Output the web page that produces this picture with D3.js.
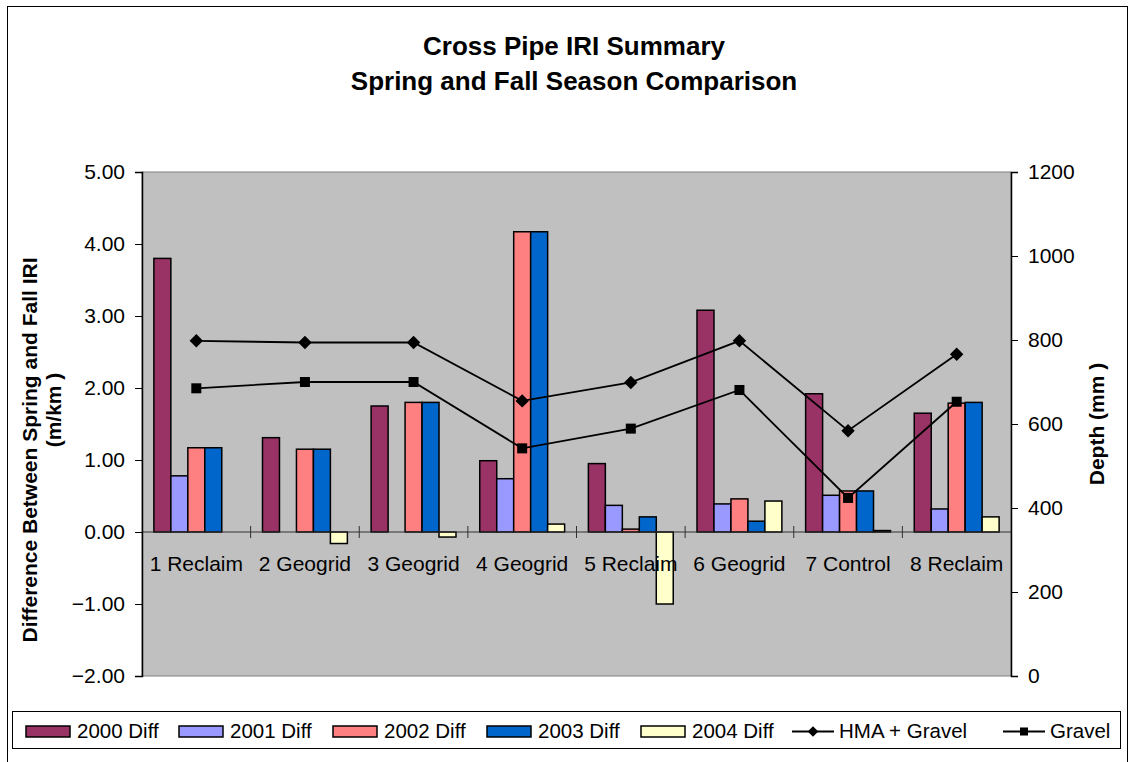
<!DOCTYPE html>
<html lang="en">
  <head>
    <meta charset="utf-8">
    <title>Cross Pipe IRI Summary</title>
    <script src="https://d3js.org/d3.v7.js"></script>
    <style>
    body {margin: 0; background: white;}
    svg text {font-family: "Liberation Sans", Arial, sans-serif; fill: black;}
    .axis text {font-size: 21px;}
    .axis-title {font-size: 21px; font-weight: bold;}
    .title {font-size: 26px; font-weight: bold;}
    .cat-label {font-size: 21px;}
    .legend text {font-size: 20.5px;}
    </style>
  </head>
  <body>
  <script>

  // data
  var categories = ["1 Reclaim", "2 Geogrid", "3 Geogrid", "4 Geogrid", "5 Reclaim", "6 Geogrid", "7 Control", "8 Reclaim"];
  var barSeries = ["2000 Diff", "2001 Diff", "2002 Diff", "2003 Diff", "2004 Diff"];
  var diff2000 = [3.80, 1.31, 1.75, 0.99, 0.95, 3.08, 1.92, 1.65];
  var diff2001 = [0.78, null, null, 0.74, 0.37, 0.39, 0.51, 0.32];
  var diff2002 = [1.17, 1.15, 1.80, 4.17, 0.04, 0.46, 0.57, 1.79];
  var diff2003 = [1.17, 1.15, 1.80, 4.17, 0.21, 0.15, 0.57, 1.80];
  var diff2004 = [null, -0.16, -0.07, 0.11, -1.00, 0.43, 0.02, 0.21];
  var hmaGravel = [798, 794, 794, 655, 699, 798, 584, 766];
  var gravel = [685, 700, 700, 542, 589, 681, 424, 653];
  var leftTicks = [-2, -1, 0, 1, 2, 3, 4, 5];
  var rightTicks = [0, 200, 400, 600, 800, 1000, 1200];
  var barColors = ["#993366", "#9999FF", "#FF8080", "#0066CC", "#FFFFCC"];

  var barValues = [diff2000, diff2001, diff2002, diff2003, diff2004];

  var w = 1133;
  var h = 762;
  var plot = {left: 142, right: 1011, top: 172, bottom: 676};

  var svg = d3.select("body")
      .append("svg")
      .attr("width", w)
      .attr("height", h);

  // chart border
  svg.append("rect")
     .attr("x", 7.5)
     .attr("y", 6.5)
     .attr("width", 1120)
     .attr("height", 780)
     .attr("fill", "white")
     .attr("stroke", "black")
     .attr("stroke-width", 1);

  // plot area
  svg.append("rect")
     .attr("x", plot.left)
     .attr("y", plot.top)
     .attr("width", plot.right - plot.left)
     .attr("height", plot.bottom - plot.top)
     .attr("fill", "#C0C0C0")
     .attr("stroke", "#808080")
     .attr("stroke-width", 1);

  var x0 = d3.scaleBand()
      .domain(categories)
      .range([plot.left, plot.right])
      .padding(0);

  var x1 = d3.scaleBand()
      .domain(barSeries)
      .range([0, x0.bandwidth()])
      .paddingInner(0)
      .paddingOuter(0.7);

  var yLeft = d3.scaleLinear()
      .domain([-2, 5])
      .range([plot.bottom, plot.top]);

  var yRight = d3.scaleLinear()
      .domain([0, 1200])
      .range([plot.bottom, plot.top]);

  // bars
  barSeries.forEach(function(s, si) {
    var vals = categories.map(function(c, i) {
      return {cat: c, v: barValues[si][i]};
    }).filter(d => d.v !== null);

    svg.selectAll(".bar-" + si)
       .data(vals)
       .join("rect")
       .attr("class", "bar-" + si)
       .attr("x", d => x0(d.cat) + x1(s))
       .attr("y", d => Math.min(yLeft(d.v), yLeft(0)))
       .attr("width", x1.bandwidth())
       .attr("height", d => Math.max(Math.abs(yLeft(d.v) - yLeft(0)), 1))
       .attr("fill", barColors[si])
       .attr("stroke", "black")
       .attr("stroke-width", 1.5);
  });

  // category axis at zero
  svg.append("line")
     .attr("x1", plot.left)
     .attr("x2", plot.right)
     .attr("y1", yLeft(0))
     .attr("y2", yLeft(0))
     .attr("stroke", "#303030")
     .attr("stroke-width", 1);

  svg.selectAll(".cat-tick")
     .data(categories.slice(1))
     .join("line")
     .attr("class", "cat-tick")
     .attr("x1", d => x0(d))
     .attr("x2", d => x0(d))
     .attr("y1", yLeft(0) - 6)
     .attr("y2", yLeft(0) + 6)
     .attr("stroke", "#303030")
     .attr("stroke-width", 1);

  svg.selectAll(".cat-label")
     .data(categories)
     .join("text")
     .attr("class", "cat-label")
     .attr("x", d => x0(d) + x0.bandwidth() / 2)
     .attr("y", yLeft(0) + 39)
     .attr("text-anchor", "middle")
     .text(d => d);

  // lines
  var lineGen = d3.line()
      .x((d, i) => x0(categories[i]) + x0.bandwidth() / 2)
      .y(d => yRight(d));

  svg.append("path")
     .attr("d", lineGen(hmaGravel))
     .attr("fill", "none")
     .attr("stroke", "black")
     .attr("stroke-width", 1.8);

  svg.append("path")
     .attr("d", lineGen(gravel))
     .attr("fill", "none")
     .attr("stroke", "black")
     .attr("stroke-width", 1.8);

  svg.selectAll(".diamond")
     .data(hmaGravel)
     .join("path")
     .attr("class", "diamond")
     .attr("d", d3.symbol().type(d3.symbolDiamond2).size(115))
     .attr("transform", (d, i) => "translate(" + (x0(categories[i]) + x0.bandwidth() / 2) + "," + yRight(d) + ")")
     .attr("fill", "black");

  svg.selectAll(".square")
     .data(gravel)
     .join("rect")
     .attr("class", "square")
     .attr("x", (d, i) => x0(categories[i]) + x0.bandwidth() / 2 - 5)
     .attr("y", d => yRight(d) - 5)
     .attr("width", 10)
     .attr("height", 10)
     .attr("fill", "black");

  // left axis
  var yAxisLeft = d3.axisLeft(yLeft)
      .tickValues(leftTicks)
      .tickSize(7)
      .tickPadding(10)
      .tickFormat(d3.format(".2f"));
  svg.append("g")
     .attr("class", "axis")
     .attr("transform", `translate(${plot.left}, 0)`)
     .call(yAxisLeft)
     .call(g => g.select(".domain").attr("stroke-width", 1.5));

  // right axis
  var yAxisRight = d3.axisRight(yRight)
      .tickValues(rightTicks)
      .tickSize(7)
      .tickPadding(10)
      .tickFormat(d3.format("d"));
  svg.append("g")
     .attr("class", "axis")
     .attr("transform", `translate(${plot.right}, 0)`)
     .call(yAxisRight)
     .call(g => g.select(".domain").attr("stroke-width", 1.5));

  svg.selectAll(".axis text").attr("font-size", 21).attr("font-family", null);

  // axis titles
  var midY = (plot.top + plot.bottom) / 2;
  svg.append("text")
     .attr("class", "axis-title")
     .attr("transform", "translate(37, 450) rotate(-90)")
     .attr("text-anchor", "middle")
     .text("Difference Between Spring and Fall IRI");
  svg.append("text")
     .attr("class", "axis-title")
     .attr("transform", "translate(61, 410) rotate(-90)")
     .attr("text-anchor", "middle")
     .text("(m/km )");
  svg.append("text")
     .attr("class", "axis-title")
     .attr("transform", `translate(1104, ${midY}) rotate(-90)`)
     .attr("text-anchor", "middle")
     .text("Depth (mm )");

  // title
  svg.append("text")
     .attr("class", "title")
     .attr("x", 574)
     .attr("y", 55)
     .attr("text-anchor", "middle")
     .text("Cross Pipe IRI Summary");
  svg.append("text")
     .attr("class", "title")
     .attr("x", 574)
     .attr("y", 90)
     .attr("text-anchor", "middle")
     .text("Spring and Fall Season Comparison");

  // legend
  var legend = svg.append("g").attr("class", "legend");
  legend.append("rect")
     .attr("x", 12.5)
     .attr("y", 711.5)
     .attr("width", 1108)
     .attr("height", 37)
     .attr("fill", "white")
     .attr("stroke", "black")
     .attr("stroke-width", 1);

  var barLegendX = [26, 179, 333, 487, 641];
  barSeries.forEach(function(s, i) {
    legend.append("rect")
       .attr("x", barLegendX[i])
       .attr("y", 726)
       .attr("width", 44)
       .attr("height", 11)
       .attr("fill", barColors[i])
       .attr("stroke", "black")
       .attr("stroke-width", 1.5);
    legend.append("text")
       .attr("x", barLegendX[i] + 51)
       .attr("y", 738)
       .text(s);
  });

  var lineLegend = [{name: "HMA + Gravel", x: 792, mark: "diamond"}, {name: "Gravel", x: 1003, mark: "square"}];
  lineLegend.forEach(function(d) {
    legend.append("line")
       .attr("x1", d.x)
       .attr("x2", d.x + 42)
       .attr("y1", 731.5)
       .attr("y2", 731.5)
       .attr("stroke", "black")
       .attr("stroke-width", 2);
    if (d.mark == "diamond") {
      legend.append("path")
         .attr("d", d3.symbol().type(d3.symbolDiamond2).size(70))
         .attr("transform", `translate(${d.x + 21}, 731.5)`)
         .attr("fill", "black");
    } else {
      legend.append("rect")
         .attr("x", d.x + 17)
         .attr("y", 727.5)
         .attr("width", 8)
         .attr("height", 8)
         .attr("fill", "black");
    }
    legend.append("text")
       .attr("x", d.x + 47)
       .attr("y", 738)
       .text(d.name);
  });

  </script>
  </body>
</html>
